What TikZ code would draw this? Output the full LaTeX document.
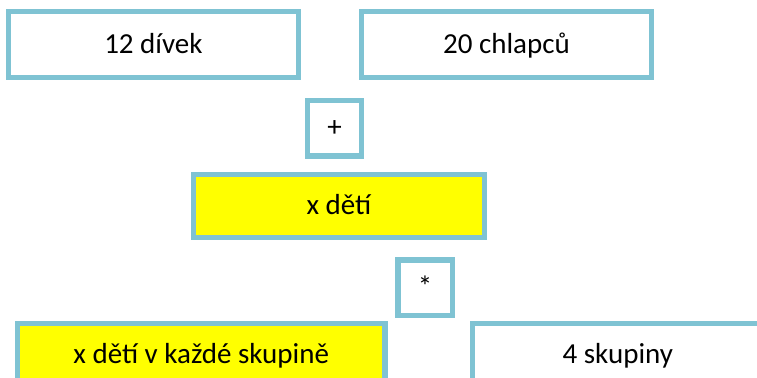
\documentclass[tikz,border=0pt]{standalone}
\usepackage{fontspec}
\setmainfont{Carlito}
\definecolor{frame}{RGB}{127,195,211}
\definecolor{hilite}{RGB}{255,255,0}
\begin{document}
\begin{tikzpicture}[x=0.75pt,y=-0.75pt,
  cell/.style={draw=frame,line width=4pt,rectangle,inner sep=0pt,
    text height=12.8pt,text depth=0pt,
    font=\fontsize{21.75}{26}\selectfont},
  plain/.style={cell,fill=white},
  marked/.style={cell,fill=hilite}]
\useasboundingbox (0,0) rectangle (757,378);
\clip (0,0) rectangle (757,378);
% counts
\node[plain,minimum width=290.2*0.75pt,minimum height=66.1*0.75pt] (girls) at (153.4,44.75) {12 dívek};
\node[plain,minimum width=290.6*0.75pt,minimum height=66.1*0.75pt] (boys) at (506.5,44.75) {20 chlapců};
% operators
\node[plain,minimum width=54*0.75pt,minimum height=55.3*0.75pt] (plus) at (334.7,128.3) {+};
\node[plain,minimum width=54.3*0.75pt,minimum height=55.7*0.75pt] (times) at (425.2,287.8) {*};
% unknowns
\node[marked,minimum width=290.4*0.75pt,minimum height=63*0.75pt] (kids) at (339,206) {x dětí};
\node[marked,minimum width=367.3*0.75pt,minimum height=63*0.75pt] (pergroup) at (201.2,355.3) {x dětí v každé skupině};
\node[plain,minimum width=290*0.75pt,minimum height=63*0.75pt] (groups) at (617.8,355.3) {4 skupiny};
\end{tikzpicture}
\end{document}
